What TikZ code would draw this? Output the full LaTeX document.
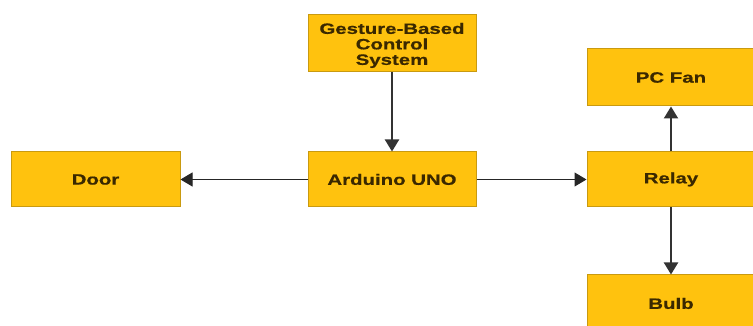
\documentclass[tikz,border=0pt]{standalone}
\usepackage{fontspec}
\setmainfont{Liberation Sans}[FakeStretch=1.36,FakeBold=0.6]
\usetikzlibrary{arrows.meta}
\definecolor{boxfill}{HTML}{FFC20E}
\definecolor{boxline}{HTML}{C99A10}
\definecolor{txt}{HTML}{3A2800}
\tikzset{
  blk/.style={draw=boxline, line width=1pt, fill=boxfill, minimum width=168pt, minimum height=56pt,
    inner sep=0pt, align=center, text=txt, font=\bfseries\fontsize{15}{15.5}\selectfont},
  conn/.style={draw=black!85, line width=1pt, -{Triangle[width=14pt,length=12pt]}},
  connv/.style={draw=black!80, line width=2pt, -{Triangle[width=14pt,length=12pt]}}
}
\begin{document}
\begin{tikzpicture}[x=1pt,y=1pt]
\path[use as bounding box, clip] (0,0) rectangle (753,326);
\fill[white] (0,0) rectangle (753,326);
\node[blk, minimum height=57pt] (g) at (392,282.5) {};
\node[text=txt, align=center, font=\bfseries\fontsize{15}{15.5}\selectfont] (gt) at (392,280.5) {Gesture-Based\\Control\\System};
\node[blk, minimum height=55pt] (a) at (392,146.5) {Arduino UNO};
\node[blk, minimum height=55pt, minimum width=169pt] (d) at (95.5,146.5) {Door};
\node[blk, minimum height=55pt] (r) at (671,146.5) {Relay};
\node[blk, minimum height=57pt] (p) at (671,248.5) {PC Fan};
\node[blk, minimum height=57pt] (b) at (671,22.5) {Bulb};
\draw[conn] (a.west) -- (d.east);
\draw[conn] (a.east) -- (r.west);
\draw[connv] (g.south) -- (a.north);
\draw[connv] (r.north) -- (p.south);
\draw[connv] (r.south) -- (b.north);
\end{tikzpicture}
\end{document}
